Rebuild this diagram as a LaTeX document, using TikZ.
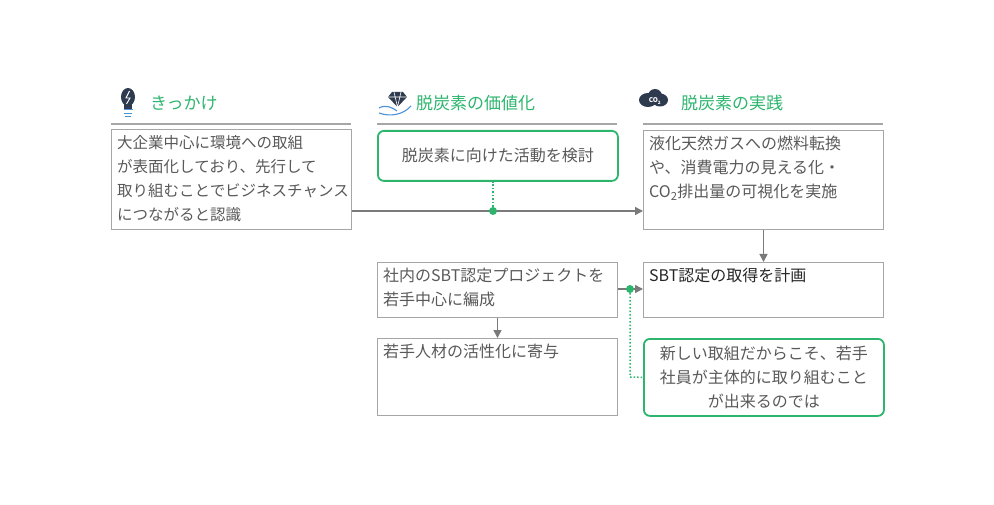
\documentclass[tikz,border=0pt]{standalone}
\usepackage{fontspec}
\setmainfont{Noto Sans CJK JP}
\usetikzlibrary{arrows.meta}
\definecolor{txt}{HTML}{595959}
\definecolor{grn}{HTML}{2DB56E}
\definecolor{bd}{HTML}{A6A6A6}
\definecolor{navy}{HTML}{2E3B4E}
\definecolor{lb}{HTML}{4A90D9}
\begin{document}
\begin{tikzpicture}[x=1pt,y=-1pt,
  box/.style={draw=bd,line width=1pt,minimum width=240pt,inner sep=0pt},
  gbox/.style={draw=grn,line width=1.8pt,rounded corners=6pt,minimum width=240pt,inner sep=0pt},
  tx/.style={text=txt,font=\fontsize{16}{24}\selectfont,align=left,anchor=north west,inner sep=0pt},
  ttl/.style={text=grn,font=\fontsize{17}{20}\selectfont,anchor=west,inner sep=0pt},
  hl/.style={draw=bd,line width=1.5pt},
  arr/.style={draw=txt!80,line width=1.5pt,-{Triangle[length=8pt,width=8pt]}},
  dot/.style={draw=grn,line width=1.5pt,dotted},
  gdot/.style={circle,fill=grn,inner sep=0pt,minimum size=8pt}]
\useasboundingbox (0,0) rectangle (994,505);
% headers
\draw[hl] (111,124) -- (351,124);
\draw[hl] (377,124) -- (617,124);
\draw[hl] (643,124) -- (883,124);
\node[ttl] (t1) at (150,103) {きっかけ};
\node[ttl] (t2) at (416,103) {脱炭素の価値化};
\node[ttl] (t3) at (681,103) {脱炭素の実践};
% icons
\fill[navy] (128,97) ellipse (7pt and 9pt);
\fill[navy] (124,104) rectangle (132,110);
\draw[lb,line width=1pt] (123.5,110) -- (132.5,110) (124,113.5) -- (132,113.5) (125,117)--(131,117);
\draw[white,line width=0.9pt] (129.5,91) -- (126,98) -- (130,98) -- (126.5,104);
\fill[navy] (388,97) -- (392,92) -- (403,92) -- (407,97) -- (397.5,107) -- cycle;
\draw[white,line width=0.6pt] (388,97) -- (407,97) (394,92)--(397.5,107)--(401,92);
\draw[lb,line width=1.1pt] (379,113) .. controls (390,117) and (403,115) .. (411,106);
\draw[lb,line width=1.1pt] (379,108) .. controls (386,104) and (393,108) .. (397,111);
\fill[navy] (648,100) ellipse (9pt and 7pt);
\fill[navy] (660,100) ellipse (8pt and 6.5pt);
\fill[navy] (655,96) ellipse (7pt and 7pt);
\node[text=white,font=\fontsize{6.5}{7}\selectfont\bfseries,inner sep=0pt] (co) at (655,101) {CO\textsubscript{2}};
% boxes
\node[box,minimum height=100pt,anchor=north west] (b1) at (111,129) {};
\node[tx,font=\fontsize{15.5}{24}\selectfont] (b1t) at (117,135) {大企業中心に環境への取組\\が表面化しており、先行して\\取り組むことでビジネスチャンス\\につながると認識};
\node[gbox,minimum height=50pt,anchor=north west] (b2) at (377,130) {};
\node[text=txt,font=\fontsize{16}{24}\selectfont,inner sep=0pt] (b2t) at (b2.center) {脱炭素に向けた活動を検討};
\node[box,minimum height=99pt,anchor=north west] (b3) at (643,130) {};
\node[tx] (b3t) at (649,136) {液化天然ガスへの燃料転換\\や、消費電力の見える化・\\CO\textsubscript{2}排出量の可視化を実施};
\node[box,minimum height=55pt,anchor=north west] (b4) at (643,262) {};
\node[tx,text=black!85] (b4t) at (649,268) {SBT認定の取得を計画};
\node[box,minimum height=55pt,anchor=north west] (b5) at (377,262) {};
\node[tx] (b5t) at (383,268) {社内のSBT認定プロジェクトを\\若手中心に編成};
\node[box,minimum height=77pt,anchor=north west] (b6) at (377,338) {};
\node[tx] (b6t) at (383,344) {若手人材の活性化に寄与};
\node[gbox,minimum height=77pt,anchor=north west] (b7) at (643,338) {};
\node[text=txt,font=\fontsize{16}{24}\selectfont,align=center,inner sep=0pt] (b7t) at (b7.center) {新しい取組だからこそ、若手\\社員が主体的に取り組むこと\\が出来るのでは};
% connectors
\coordinate (a1) at (b1.east |- 0,211);
\coordinate (a2) at (b3.west |- 0,211);
\draw[arr] (a1) -- (a2);
\node[gdot] (d1) at (493,211) {};
\draw[dot] (d1) -- (d1 |- b2.south);
\draw[arr] (b3.south) -- (b4.north);
\draw[arr] (b5.east |- 0,289) -- (b4.west |- 0,289);
\node[gdot] (d2) at (630,289) {};
\coordinate (c2) at (630,377);
\draw[dot] (d2) -- (c2) -- (b7.west);
\draw[arr] (b5.south) -- (b6.north);
\end{tikzpicture}
\end{document}
